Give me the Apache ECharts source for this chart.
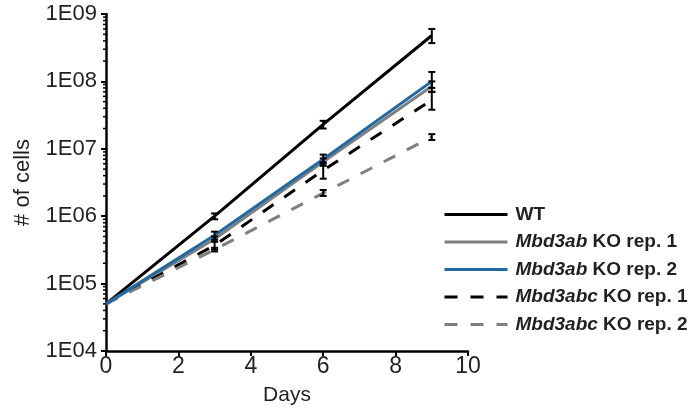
<!DOCTYPE html>
<html>
<head>
<meta charset="utf-8">
<script src="https://cdn.jsdelivr.net/npm/echarts@6/dist/echarts.min.js"></script>
<style>html,body{margin:0;padding:0;background:#fff;}#c{width:699px;height:413px;}</style>
</head>
<body>
<div id="c"></div>
<script>
const days = [0, 3, 6, 9];
const seriesNames = ['WT', 'Mbd3ab KO rep. 1', 'Mbd3ab KO rep. 2', 'Mbd3abc KO rep. 1', 'Mbd3abc KO rep. 2'];
const wt = [5e4, 1.0e6, 2.3e7, 4.8e8];
const abRep1 = [5e4, 4.6e5, 6.4e6, 8.5e7];
const abRep2 = [5e4, 5.2e5, 7.0e6, 1.0e8];
const abcRep1 = [5e4, 3.7e5, 4.8e6, 5.3e7];
const abcRep2 = [5e4, 3.2e5, 2.2e6, 1.5e7];
// error bars: low / high at days 3, 6, 9
const errDays = [3, 6, 9];
const wtLow = [0.9e6, 2.0e7, 3.7e8], wtHigh = [1.1e6, 2.6e7, 6.0e8];
const abRep1Low = [4.2e5, 5.6e6, 7.0e7], abRep1High = [5.0e5, 7.2e6, 1.0e8];
const abRep2Low = [4.5e5, 6.0e6, 8.0e7], abRep2High = [5.9e5, 8.2e6, 1.38e8];
const abcRep1Low = [3.2e5, 3.6e6, 3.8e7], abcRep1High = [4.2e5, 6.3e6, 7.0e7];
const abcRep2Low = [3.0e5, 2.0e6, 1.35e7], abcRep2High = [3.4e5, 2.45e6, 1.65e7];
const yTickLabels = ['1E04', '1E05', '1E06', '1E07', '1E08', '1E09'];
const minorMultipliers = [2, 3, 4, 5, 6, 7, 8, 9];
const decades = [1e4, 1e5, 1e6, 1e7, 1e8];

const colors = ['#000000', '#7f7f7f', '#1f6aa5', '#000000', '#7f7f7f'];
const dashed = [false, false, false, true, true];
const values = [wt, abRep1, abRep2, abcRep1, abcRep2];
const lows = [wtLow, abRep1Low, abRep2Low, abcRep1Low, abcRep2Low];
const highs = [wtHigh, abRep1High, abRep2High, abcRep1High, abcRep2High];

const FONT = '"Liberation Sans", Arial, sans-serif';
const TXT = '#231f20';
const chart = echarts.init(document.getElementById('c'));

const series = [];
values.forEach((v, i) => {
  series.push({
    name: seriesNames[i],
    type: 'line',
    data: days.map((d, k) => [d, v[k]]),
    symbol: 'none',
    showSymbol: false,
    lineStyle: { color: colors[i], width: 3, type: dashed[i] ? [13, 13] : 'solid', cap: 'butt' },
    itemStyle: { color: colors[i] },
    z: 2 + (i === 2 ? 1 : 0),
    animation: false
  });
});
const errData = [];
lows.forEach((lo, i) => {
  errDays.forEach((d, k) => errData.push([d, lo[k], highs[i][k]]));
});
series.push({
  type: 'custom',
  name: 'err',
  z: 5,
  silent: true,
  animation: false,
  data: errData,
  encode: { x: 0, y: [1, 2] },
  renderItem: function (params, api) {
    const x = api.value(0);
    const lo = api.coord([x, api.value(1)]);
    const hi = api.coord([x, api.value(2)]);
    const w = 3.5;
    const st = { stroke: '#000', lineWidth: 2 };
    return {
      type: 'group',
      children: [
        { type: 'line', shape: { x1: lo[0], y1: lo[1], x2: hi[0], y2: hi[1] }, style: st },
        { type: 'line', shape: { x1: lo[0] - w, y1: lo[1], x2: lo[0] + w, y2: lo[1] }, style: st },
        { type: 'line', shape: { x1: hi[0] - w, y1: hi[1], x2: hi[0] + w, y2: hi[1] }, style: st }
      ]
    };
  }
});
// log minor ticks on the y axis
const minorData = [];
decades.forEach(d => minorMultipliers.forEach(m => minorData.push([0, d * m])));
series.push({
  type: 'custom',
  name: 'minor',
  silent: true,
  animation: false,
  clip: false,
  z: 6,
  data: minorData,
  renderItem: function (params, api) {
    const p = api.coord([api.value(0), api.value(1)]);
    return { type: 'line', shape: { x1: p[0] - 3, y1: p[1], x2: p[0], y2: p[1] }, style: { stroke: '#000', lineWidth: 1.5 } };
  }
});

chart.setOption({
  backgroundColor: '#fff',
  animation: false,
  grid: { left: 106, top: 14, right: 231, bottom: 62, containLabel: false },
  xAxis: {
    type: 'value', min: 0, max: 10, interval: 2,
    name: 'Days', nameLocation: 'middle', nameGap: 34,
    nameTextStyle: { fontFamily: FONT, fontSize: 21, color: TXT },
    axisLine: { lineStyle: { color: '#000', width: 2.5 } },
    axisTick: { show: true, length: 5, lineStyle: { color: '#000', width: 2 } },
    axisLabel: { fontFamily: FONT, fontSize: 23, color: TXT, margin: 4 },
    splitLine: { show: false }
  },
  yAxis: {
    type: 'log', logBase: 10, min: 1e4, max: 1e9,
    name: '# of cells', nameLocation: 'middle', nameGap: 72, nameRotate: 90,
    nameTextStyle: { fontFamily: FONT, fontSize: 22, color: TXT },
    axisLine: { lineStyle: { color: '#000', width: 2.5 } },
    axisTick: { show: true, length: 5, lineStyle: { color: '#000', width: 2 } },
    axisLabel: {
      fontFamily: FONT, fontSize: 22, color: TXT, margin: 9,
      formatter: function (v) { const e = Math.round(Math.log10(v)); return yTickLabels[e - 4]; }
    },
    splitLine: { show: false }
  },
  legend: {
    data: seriesNames,
    orient: 'vertical',
    left: 438, top: 200,
    itemWidth: 63, itemHeight: 14, itemGap: 8.5,
    itemStyle: { opacity: 0 },
    lineStyle: { width: 3 },
    formatter: function (n) {
      const m = n.match(/^(Mbd3\w+)( .*)$/);
      return m ? '{i|' + m[1] + '}{b|' + m[2] + '}' : '{b|' + n + '}';
    },
    textStyle: {
      fontFamily: FONT, fontSize: 19, fontWeight: 'bold', color: TXT, padding: [0, 0, 0, 3],
      rich: {
        i: { fontFamily: FONT, fontSize: 19, lineHeight: 20, fontWeight: 'bold', fontStyle: 'italic', color: TXT },
        b: { fontFamily: FONT, fontSize: 19, lineHeight: 20, fontWeight: 'bold', color: TXT }
      }
    }
  },
  series: series
});
</script>
</body>
</html>
